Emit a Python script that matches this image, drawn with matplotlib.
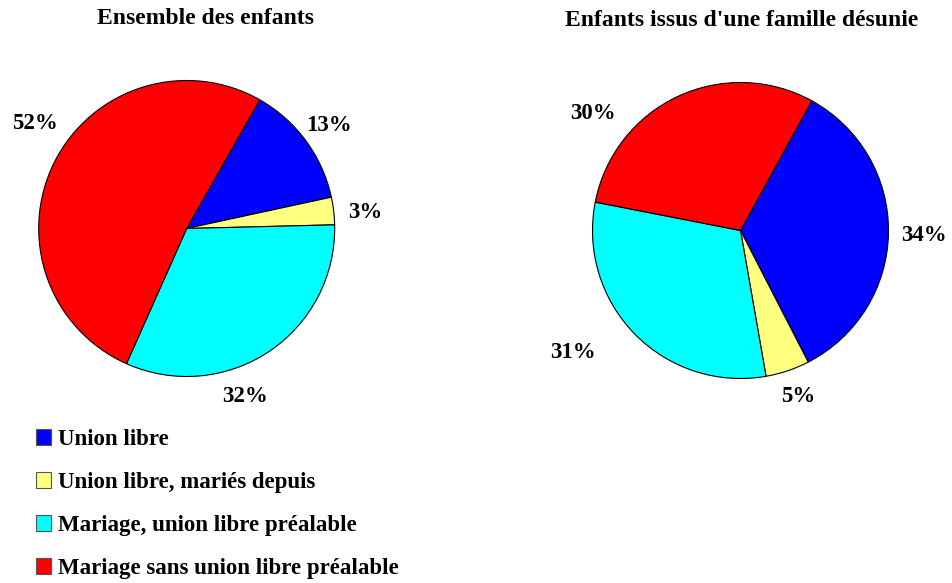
import numpy as np
import matplotlib.pyplot as plt

plt.rcParams['font.family'] = ['Liberation Serif', 'DejaVu Serif']
plt.rcParams['font.weight'] = 'bold'

categories = ['Union libre', 'Union libre, mariés depuis',
              'Mariage, union libre préalable', 'Mariage sans union libre préalable']
colors = ['#0000FF', '#FFFF80', '#00FFFF', '#FF0000']

titles = ['Ensemble des enfants', "Enfants issus d'une famille désunie"]
ensemble = [13.4, 3.0, 32.1, 51.6]
desunie = [34.4, 4.8, 30.8, 29.9]
start_angles = [60.4, 61.2]

# label placement: (angle shift from wedge middle in degrees, radius factor)
label_pos = [
    [(-0.4, 1.19), (-1.7, 1.21), (-14.4, 1.20), (-7.8, 1.25)],
    [(-0.9, 1.24), (0.5, 1.19), (-8.4, 1.40), (26.5, 1.27)],
]

W, H = 953, 583
fig = plt.figure(figsize=(W / 100, H / 100), dpi=100)

R = 148            # pie radius in px
centers = [(186.7, 228.5), (740.5, 230.5)]
half = 1.5 * R

for i, (vals, title) in enumerate(zip([ensemble, desunie], titles)):
    cx, cy = centers[i]
    ax = fig.add_axes([(cx - half) / W, (H - cy - half) / H, 2 * half / W, 2 * half / H])
    wedges, _ = ax.pie(vals, colors=colors, startangle=start_angles[i], counterclock=False,
                       wedgeprops=dict(edgecolor='black', linewidth=0.8))
    ax.set_xlim(-1.5, 1.5)
    ax.set_ylim(-1.5, 1.5)
    ax.set_aspect('equal')
    ax.axis('off')
    total = sum(vals)
    for w, v, (da, rr) in zip(wedges, vals, label_pos[i]):
        mid = np.deg2rad((w.theta1 + w.theta2) / 2 + da)
        ax.text(rr * np.cos(mid), rr * np.sin(mid), f"{v / total * 100:.0f}%",
                ha='center', va='center', fontsize=16.5, fontweight='bold')

fig.text(206 / W, 1 - 19 / H, titles[0], ha='center', va='center', fontsize=17, fontweight='bold')
fig.text(741.5 / W, 1 - 20 / H, titles[1], ha='center', va='center', fontsize=17, fontweight='bold')

handles = [plt.Rectangle((0, 0), 1, 1, facecolor=c, edgecolor='#555555', linewidth=0.8) for c in colors]
fig.legend(handles, categories, loc='upper left', bbox_to_anchor=(36 / W, 1 - 429 / H),
           frameon=False, borderpad=0, borderaxespad=0, handlelength=0.65, handleheight=0.65,
           handletextpad=0.3, labelspacing=0.96,
           prop=dict(family='Liberation Serif', weight='bold', size=16.5))

fig.savefig('out.png', dpi=100, facecolor='white')
